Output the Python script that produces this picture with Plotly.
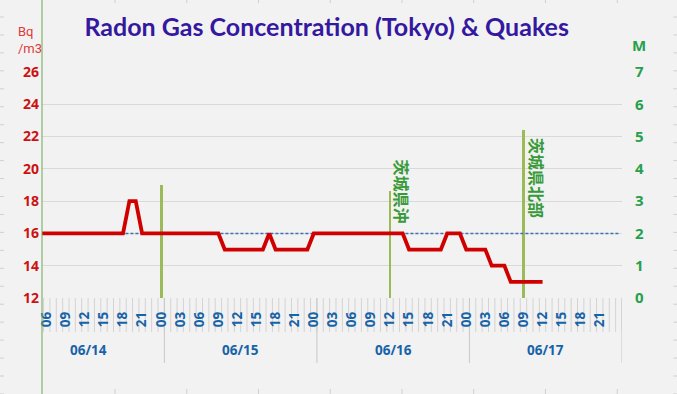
import plotly.graph_objects as go
import pandas as pd

# ---------------- data ----------------
radon_start = "2018-06-14 05:00"
radon_bq_m3 = [16, 16, 16, 16, 16, 16, 16, 16, 16, 16, 16, 16, 16, 16,
               18, 18,
               16, 16, 16, 16, 16, 16, 16, 16, 16, 16, 16, 16, 16,
               15, 15, 15, 15, 15, 15, 15,
               16,
               15, 15, 15, 15, 15, 15,
               16, 16, 16, 16, 16, 16, 16, 16, 16, 16, 16, 16, 16, 16, 16,
               15, 15, 15, 15, 15, 15,
               16, 16, 16,
               15, 15, 15, 15,
               14, 14, 14,
               13, 13, 13, 13, 13, 13]
avg_level = 16
avg_end = "2018-06-18 00:00"

quake_times = ["2018-06-15 00:00", "2018-06-16 12:00", "2018-06-17 09:00"]
quake_mag = [3.5, 3.3, 5.2]
quake_labels = ["", "茨城県沖", "茨城県北部"]

day_labels = ["06/14", "06/15", "06/16", "06/17"]
day_dates = ["2018-06-14", "2018-06-15", "2018-06-16", "2018-06-17"]
hour_tick_start = "2018-06-14 06:00"
hour_tick_end = "2018-06-17 21:00"

radon_ticks = [12, 14, 16, 18, 20, 22, 24, 26]
mag_ticks = [0, 1, 2, 3, 4, 5, 6, 7]

x_range = ["2018-06-14 05:15", "2018-06-18 00:30"]

# ---------------- geometry helpers ----------------
W, H = 677, 394
L, R, T, B = 42, 621.7, 72, 298
def px(x):
    return (x - L) / (R - L)
def py(y):
    return (B - y) / (B - T)

radon_times = pd.date_range(radon_start, periods=len(radon_bq_m3), freq="h")
avg_times = pd.date_range(radon_start, avg_end, freq="h")
tick_times = pd.date_range(hour_tick_start, hour_tick_end, freq="3h")
tick_text = ["<b>%s</b>" % t.strftime("%H") for t in tick_times]

BLUE = "#1763a8"
RED = "#cc1111"
GREEN = "#26a04c"
LABEL_GREEN = "#389a38"

fig = go.Figure()
fig.add_trace(go.Bar(x=pd.to_datetime(quake_times), y=quake_mag, yaxis="y",
                     width=0.45 * 3600000, marker=dict(color="#9bbb59", line=dict(width=0)),
                     showlegend=False))
fig.add_trace(go.Scatter(x=avg_times, y=[avg_level] * len(avg_times), yaxis="y2", mode="lines",
                         line=dict(color="#3f6fb8", width=1.5, dash="3px,2px"), showlegend=False))
fig.add_trace(go.Scatter(x=radon_times, y=radon_bq_m3, yaxis="y2", mode="lines",
                         line=dict(color="#d00000", width=3.8), showlegend=False))

shapes = []
# hourly separators in label band
for t in pd.date_range(pd.Timestamp(radon_start) + pd.Timedelta("30min"), x_range[1], freq="h"):
    shapes.append(dict(type="line", xref="x", yref="paper", x0=t, x1=t, y0=0, y1=py(332),
                       layer="below", line=dict(color="#d3d3d3", width=1)))
# day dividers
for d in day_dates[1:] + ["2018-06-18"]:
    t = pd.Timestamp(d) + pd.Timedelta("30min")
    shapes.append(dict(type="line", xref="x", yref="paper", x0=t, x1=t, y0=0, y1=py(363),
                       layer="below", line=dict(color="#c8c8c8", width=1)))
# left green frame line
shapes.append(dict(type="line", xref="paper", yref="paper", x0=0, x1=0, y0=py(H), y1=py(0),
                   line=dict(color="#6aa84f", width=1)))
# sheet grid stubs around the chart
for n in range(22):
    yy = 17 + 17.95 * n
    shapes.append(dict(type="line", xref="paper", yref="paper", x0=px(0), x1=px(4), y0=py(yy), y1=py(yy),
                       layer="below", line=dict(color="#d0d0d0", width=1)))
    shapes.append(dict(type="line", xref="paper", yref="paper", x0=px(673), x1=px(677), y0=py(yy), y1=py(yy),
                       layer="below", line=dict(color="#d0d0d0", width=1)))
for n in range(8):
    xx = 115 + 71.7 * n
    shapes.append(dict(type="line", xref="paper", yref="paper", x0=px(xx), x1=px(xx), y0=py(0), y1=py(3),
                       layer="below", line=dict(color="#d0d0d0", width=1)))
    shapes.append(dict(type="line", xref="paper", yref="paper", x0=px(xx), x1=px(xx), y0=py(389), y1=py(394),
                       layer="below", line=dict(color="#d0d0d0", width=1)))

annotations = []
for d, lab in zip(day_dates, day_labels):
    annotations.append(dict(x=pd.Timestamp(d) + pd.Timedelta("12h30min"), xref="x", y=py(350), yref="paper",
                            text="<b>%s</b>" % lab, showarrow=False, xanchor="center", yanchor="middle",
                            font=dict(family="Open Sans", size=13.5, color=BLUE)))
label_pos = {"茨城県沖": (12, py(191.5)), "茨城県北部": (13.5, py(178))}
for t, lab in zip(quake_times, quake_labels):
    if not lab:
        continue
    xs, yp = label_pos[lab]
    annotations.append(dict(x=pd.Timestamp(t), xref="x", xshift=xs, y=yp, yref="paper",
                            text="<b>%s</b>" % lab, textangle=90, showarrow=False,
                            xanchor="center", yanchor="middle",
                            font=dict(family="Noto Sans CJK JP", size=16, color=LABEL_GREEN)))
annotations.append(dict(x=px(16), y=py(40), xref="paper", yref="paper", text="Bq<br>/m3",
                        showarrow=False, xanchor="left", yanchor="middle", align="left",
                        font=dict(family="Liberation Sans Narrow, Roboto", size=13, color="#e03a3a")))
annotations.append(dict(x=px(639), y=py(45), xref="paper", yref="paper", text="<b>M</b>",
                        showarrow=False, xanchor="center", yanchor="middle",
                        font=dict(family="Open Sans", size=15, color=GREEN)))

fig.update_layout(
    width=W, height=H,
    margin=dict(l=L, r=W - R, t=T, b=H - B, pad=0, autoexpand=False),
    paper_bgcolor="#f2f2f2", plot_bgcolor="#f2f2f2",
    title=dict(text="<b>Radon Gas Concentration (Tokyo) &amp; Quakes</b>",
               x=326.7 / W, xanchor="center", y=1 - 27 / H, yanchor="middle",
               font=dict(family="Lato", size=25, color="#3418a0")),
    xaxis=dict(type="date", range=x_range, tickmode="array", tickvals=tick_times, ticktext=tick_text,
               tickangle=-90, ticks="", showgrid=False, zeroline=False, showline=False,
               ticklabelstandoff=10, automargin=False,
               tickfont=dict(family="Open Sans", size=13.5, color=BLUE)),
    yaxis=dict(side="right", range=[0, 7], tickmode="array", tickvals=mag_ticks,
               ticktext=["<b>%d</b>" % v for v in mag_ticks],
               showgrid=True, gridcolor="#d9d9d9", gridwidth=1,
               zeroline=False, showline=False, ticks="", ticklabelstandoff=12, automargin=False,
               tickfont=dict(family="Open Sans", size=15, color=GREEN)),
    yaxis2=dict(side="left", overlaying="y", range=[12, 26], tickmode="array", tickvals=radon_ticks,
                ticktext=["<b>%d</b>" % v for v in radon_ticks], showgrid=False,
                zeroline=False, showline=False, ticks="", ticklabelstandoff=2, automargin=False,
                tickfont=dict(family="Open Sans", size=14, color=RED)),
    shapes=shapes, annotations=annotations, bargap=0, showlegend=False,
)

fig.write_html("out.html", config={"displayModeBar": False},
               post_script="document.body.style.margin='0';document.body.style.background='#f2f2f2';")
